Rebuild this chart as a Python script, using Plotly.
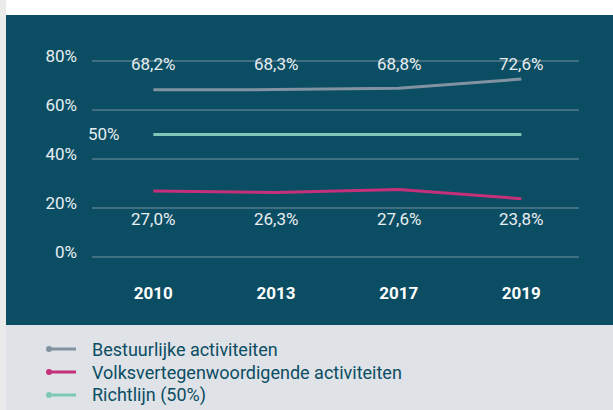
import plotly.graph_objects as go

# ---- data ----
years = ["2010", "2013", "2017", "2019"]
bestuurlijk = [68.2, 68.3, 68.8, 72.6]
volksvert = [27.0, 26.3, 27.6, 23.8]
richtlijn = [50, 50, 50, 50]
series_names = ["Bestuurlijke activiteiten", "Volksvertegenwoordigende activiteiten", "Richtlijn (50%)"]
y_ticks = [0, 20, 40, 60, 80]
y_tick_text = ["0%", "20%", "40%", "60%", "80%"]

def fmt(v):
    return f"{v:.1f}".replace(".", ",") + "%"

# ---- styles ----
W, H = 613, 410
ML, MR, MT, MB = 92, 34, 56, 148
PANEL = "#0b4d63"
LEGEND_BG = "#dfe2e7"
GRID = "#3f6f80"
TXT = "#e8eef1"
colors = ["#8193a0", "#c5307a", "#7fc8b7"]
FONT = "Roboto, 'Open Sans', sans-serif"
NUM_SIZE = 17

pw = W - ML - MR
ph = H - MT - MB

def px_x(px):
    return (px - ML) / pw

def px_y(py):
    return (H - MB - py) / ph

fig = go.Figure()
for name, vals, col in zip(series_names, [bestuurlijk, volksvert, richtlijn], colors):
    fig.add_trace(go.Scatter(
        x=years, y=vals, name=name, mode="lines",
        line=dict(color=col, width=3),
        showlegend=False, hoverinfo="skip",
    ))

annotations = []
# value labels (x given as category index)
for i, v in enumerate(bestuurlijk):
    annotations.append(dict(x=i, xref="x", y=px_y(64), yref="paper", text=fmt(v),
                            showarrow=False, font=dict(family=FONT, size=NUM_SIZE, color=TXT),
                            xanchor="center", yanchor="middle"))
for i, v in enumerate(volksvert):
    annotations.append(dict(x=i, xref="x", y=px_y(218.5), yref="paper", text=fmt(v),
                            showarrow=False, font=dict(family=FONT, size=NUM_SIZE, color=TXT),
                            xanchor="center", yanchor="middle"))
# guideline label
annotations.append(dict(x=px_x(122), xref="paper", y=richtlijn[0], yref="y",
                        text=f"{richtlijn[0]}%", showarrow=False,
                        font=dict(family=FONT, size=NUM_SIZE, color=TXT),
                        xanchor="right", yanchor="middle"))

shapes = [
    dict(type="rect", xref="paper", yref="paper", x0=px_x(0), x1=px_x(W), y0=px_y(15), y1=px_y(0),
         fillcolor="#ffffff", line=dict(width=0), layer="below"),
    dict(type="rect", xref="paper", yref="paper", x0=px_x(0), x1=px_x(6), y0=px_y(H), y1=px_y(0),
         fillcolor="#ebebeb", line=dict(width=0), layer="below"),
    dict(type="rect", xref="paper", yref="paper", x0=px_x(6), x1=px_x(W), y0=px_y(325), y1=px_y(15),
         fillcolor=PANEL, line=dict(width=0), layer="below"),
]

# custom legend
leg_y = [349, 372, 395]
for name, col, ly in zip(series_names, colors, leg_y):
    shapes.append(dict(type="line", xref="paper", yref="paper",
                       x0=px_x(49), x1=px_x(76), y0=px_y(ly), y1=px_y(ly),
                       line=dict(color=col, width=3)))
    shapes.append(dict(type="circle", xref="paper", yref="paper",
                       x0=px_x(46), x1=px_x(52), y0=px_y(ly + 3), y1=px_y(ly - 3),
                       fillcolor=col, line=dict(width=0)))
    annotations.append(dict(x=px_x(90), xref="paper", y=px_y(ly), yref="paper", text=name,
                            showarrow=False, xanchor="left", yanchor="middle",
                            font=dict(family=FONT, size=18, color=PANEL)))

fig.update_layout(
    width=W, height=H,
    margin=dict(l=ML, r=MR, t=MT, b=MB, pad=0),
    paper_bgcolor=LEGEND_BG,
    plot_bgcolor="rgba(0,0,0,0)",
    showlegend=False,
    shapes=shapes,
    annotations=annotations,
    xaxis=dict(
        type="category", range=[-0.5, 3.47], showgrid=False, zeroline=False,
        showline=False, ticks="", ticklabelstandoff=19,
        tickfont=dict(family=FONT, size=NUM_SIZE, color="#ffffff", weight="bold"),
        fixedrange=True,
    ),
    yaxis=dict(
        range=[-2, 82], tickvals=y_ticks, ticktext=y_tick_text,
        showgrid=True, gridcolor=GRID, gridwidth=1.5, zeroline=False,
        showline=False, ticks="", ticklabelstandoff=14, ticklabelshift=-5,
        tickfont=dict(family=FONT, size=NUM_SIZE, color=TXT),
        fixedrange=True,
    ),
)

fig.write_html("out.html", config={"displayModeBar": False},
               post_script="document.body.style.margin='0';document.body.style.padding='0';")
